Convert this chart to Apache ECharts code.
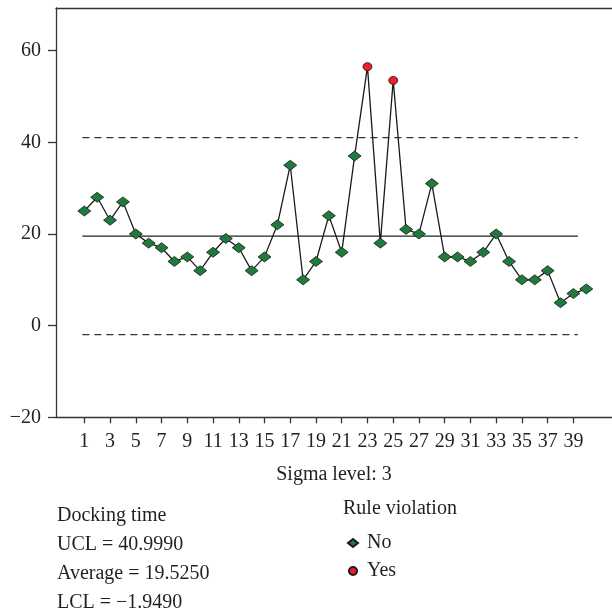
<!DOCTYPE html>
<html>
<head>
<meta charset="utf-8">
<script src="https://cdn.jsdelivr.net/npm/echarts@6/dist/echarts.min.js"></script>
<style>
html,body{margin:0;padding:0;background:#fff;}
#c{width:612px;height:612px;}
</style>
</head>
<body>
<div id="c"></div>
<script>
// ---- data ----
var samples = [1,2,3,4,5,6,7,8,9,10,11,12,13,14,15,16,17,18,19,20,21,22,23,24,25,26,27,28,29,30,31,32,33,34,35,36,37,38,39,40];
var dockingTime = [25,28,23,27,20,18,17,14,15,12,16,19,17,12,15,22,35,10,14,24,16,37,56.5,18,53.5,21,20,31,15,15,14,16,20,14,10,10,12,5,7,8];
var ruleViolation = [0,0,0,0,0,0,0,0,0,0,0,0,0,0,0,0,0,0,0,0,0,0,1,0,1,0,0,0,0,0,0,0,0,0,0,0,0,0,0,0];
var xTickLabels = [1,3,5,7,9,11,13,15,17,19,21,23,25,27,29,31,33,35,37,39];
var yTickLabels = [-20,0,20,40,60];
var UCL = 40.9990;
var AVG = 19.5250;
var LCL = -1.9490;
var sigmaLevel = 3;
var limitSpan = [0.85, 39.35];

var noPts = [], yesPts = [], linePts = [];
for (var i = 0; i < samples.length; i++) {
  linePts.push([samples[i], dockingTime[i]]);
  if (ruleViolation[i]) yesPts.push([samples[i], dockingTime[i]]);
  else noPts.push([samples[i], dockingTime[i]]);
}
function hline(v){ return [[limitSpan[0], v],[limitSpan[1], v]]; }

var FONT = 'Liberation Serif';
var TXT = '#231f20';

var chart = echarts.init(document.getElementById('c'), null, {renderer:'canvas'});
chart.setOption({
  backgroundColor:'#fff',
  animation:false,
  textStyle:{fontFamily:FONT, color:TXT},
  grid:{left:56, right:0, top:8, bottom:194.7},
  xAxis:[{
    type:'value', min:-1.2, max:42, position:'bottom',
    name:'Sigma level: ' + sigmaLevel, nameLocation:'middle', nameGap:47,
    nameTextStyle:{fontFamily:FONT, fontSize:20, color:TXT},
    axisLine:{show:true, onZero:false, lineStyle:{color:'#333', width:1.3}},
    axisTick:{show:true, length:6, inside:false, customValues:xTickLabels, lineStyle:{color:'#333', width:1.3}},
    axisLabel:{customValues:xTickLabels, margin:14, fontFamily:FONT, fontSize:20, color:TXT},
    splitLine:{show:false}
  },{
    type:'value', min:-1.2, max:42, position:'top',
    axisLine:{show:true, onZero:false, lineStyle:{color:'#333', width:1.3}},
    axisTick:{show:false}, axisLabel:{show:false}, splitLine:{show:false}
  }],
  yAxis:{
    type:'value', min:-20, max:69.3,
    axisLine:{show:true, onZero:false, lineStyle:{color:'#333', width:1.3}},
    axisTick:{show:true, length:8, customValues:yTickLabels, lineStyle:{color:'#333', width:1.3}},
    axisLabel:{customValues:yTickLabels, margin:15, fontFamily:FONT, fontSize:20, color:TXT,
      formatter:function(v){ return v < 0 ? '\u2212' + Math.abs(v) : String(v); }},
    splitLine:{show:false}
  },
  legend:{
    orient:'vertical', left:342, top:528, itemWidth:10, itemHeight:8, itemGap:8,
    data:['No','Yes'],
    textStyle:{fontFamily:FONT, fontSize:20, color:TXT, padding:[0,0,0,4]}
  },
  graphic:[
    {type:'text', left:343, top:499, style:{text:'Rule violation', font:'20px "Liberation Serif"', fill:TXT}},
    {type:'text', left:57, top:501, style:{
      text:'Docking time\nUCL = ' + UCL.toFixed(4) + '\nAverage = ' + AVG.toFixed(4) + '\nLCL = ' + (LCL<0?'\u2212':'') + Math.abs(LCL).toFixed(4),
      font:'20px "Liberation Serif"', fill:TXT, lineHeight:29}}
  ],
  series:[
    {type:'line', name:'UCL', data:hline(UCL), symbol:'none', silent:true, lineStyle:{color:'#333', width:1.3, type:[7,5]}, z:1},
    {type:'line', name:'Average', data:hline(AVG), symbol:'none', silent:true, lineStyle:{color:'#222', width:1.3}, z:1},
    {type:'line', name:'LCL', data:hline(LCL), symbol:'none', silent:true, lineStyle:{color:'#333', width:1.3, type:[7,5]}, z:1},
    {type:'line', name:'Docking time', data:linePts, symbol:'none', lineStyle:{color:'#1a1a1a', width:1.3}, z:2},
    {type:'scatter', name:'No', data:noPts, symbol:'diamond', symbolSize:[13,10],
      itemStyle:{color:'#1e7b3b', borderColor:'#1a1a1a', borderWidth:0.8, opacity:1}, z:3},
    {type:'scatter', name:'Yes', data:yesPts, symbol:'circle', symbolSize:[9,8],
      itemStyle:{color:'#ec1f28', borderColor:'#1a1a1a', borderWidth:0.8, opacity:1}, z:3}
  ]
});
</script>
</body>
</html>
